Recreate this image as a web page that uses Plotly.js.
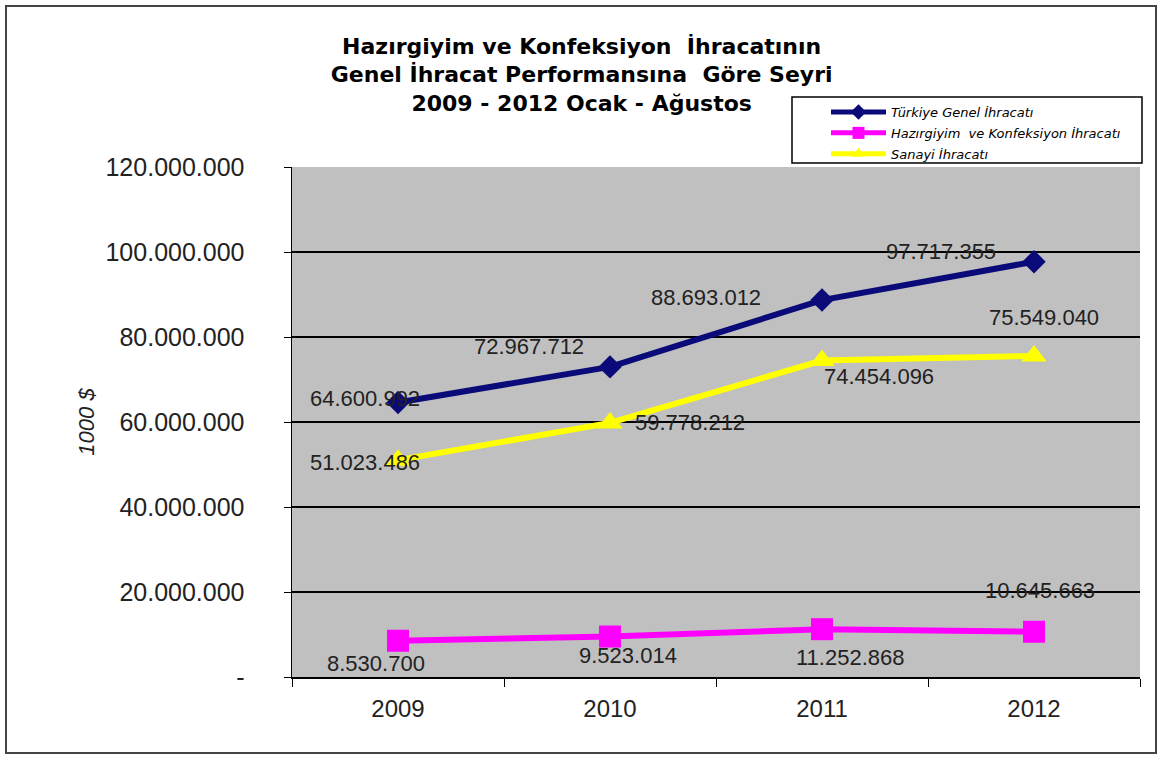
<!DOCTYPE html>
<html>
<head>
<meta charset="utf-8">
<script src="https://cdn.plot.ly/plotly-3.0.1.min.js"></script>
<style>
html,body{margin:0;padding:0;background:#fff;}
#chart{position:absolute;left:0;top:0;width:1161px;height:758px;}
#frame{position:absolute;left:5px;top:5px;width:1148px;height:745px;border:2px solid #444;pointer-events:none;}
</style>
</head>
<body>
<div id="chart"></div>
<div id="frame"></div>
<script>
const years = ["2009", "2010", "2011", "2012"];
const genelIhracat = [64600992, 72967712, 88693012, 97717355];
const hazirgiyim = [8530700, 9523014, 11252868, 10645663];
const sanayi = [51023486, 59778212, 74454096, 75549040];
const seriesNames = ["Türkiye Genel İhracatı", "Hazırgiyim  ve Konfeksiyon İhracatı", "Sanayi İhracatı"];
const yTickVals = [0, 20000000, 40000000, 60000000, 80000000, 100000000, 120000000];
const yTickText = ["-", "20.000.000", "40.000.000", "60.000.000", "80.000.000", "100.000.000", "120.000.000"];

function fmt(v){ return String(v).replace(/\B(?=(\d{3})+(?!\d))/g, "."); }

const FONT = "Liberation Sans, Arial, sans-serif";
const WIDE = "DejaVu Sans, Verdana, sans-serif";

const traces = [
  {x: years, y: genelIhracat, name: seriesNames[0], legendgroup: "a", type: "scatter", mode: "lines+markers",
   line: {color: "#0a0a78", width: 6}, marker: {symbol: "diamond", size: 18, color: "#0a0a78"}},
  {x: years, y: hazirgiyim, name: seriesNames[1], legendgroup: "b", type: "scatter", mode: "lines+markers",
   line: {color: "#ff00ff", width: 6}, marker: {symbol: "square", size: 22, color: "#ff00ff"}},
  {x: years, y: sanayi, name: seriesNames[2], legendgroup: "c", type: "scatter", mode: "lines+markers",
   line: {color: "#ffff00", width: 6}, marker: {symbol: "triangle-up", size: 22, color: "#ffff00"}}
];
traces.forEach(t => { t.name = "<i>" + t.name + "</i>"; });

// label offsets (px) per series/point
const offG = [[-33, 4], [-81, 20], [-116, 3], [-93, 10]];
const offH = [[-22, -23], [18, -19], [28, -28], [6, 41]];
const offS = [[-33, -2], [80, 0], [57, -16], [10, 38]];

const annotations = [];
function addLabels(vals, offs){
  vals.forEach((v, i) => {
    annotations.push({x: i, y: v, xref: "x", yref: "y", text: fmt(v), showarrow: false,
      xshift: offs[i][0], yshift: offs[i][1], font: {family: FONT, size: 22, color: "#222"}});
  });
}
addLabels(genelIhracat, offG);
addLabels(hazirgiyim, offH);
addLabels(sanayi, offS);

const layout = {
  width: 1161, height: 758,
  margin: {l: 292, r: 21, t: 167, b: 81},
  paper_bgcolor: "#ffffff",
  plot_bgcolor: "#c0c0c0",
  showlegend: true,
  title: {
    text: "<b>Hazırgiyim ve Konfeksiyon  İhracatının<br>Genel İhracat Performansına  Göre Seyri<br>2009 - 2012 Ocak - Ağustos</b>",
    xref: "container", yref: "container",
    x: 0.501, xanchor: "center", y: 0.929, yanchor: "top",
    font: {family: WIDE, size: 22, color: "#000"}
  },
  xaxis: {
    type: "category", range: [-0.5, 3.5],
    showline: true, linecolor: "#000", linewidth: 1.5, mirror: false,
    ticks: "outside", ticklen: 8, tickcolor: "#000", tickson: "boundaries",
    ticklabelstandoff: 10,
    showgrid: false, zeroline: false,
    tickfont: {family: FONT, size: 24, color: "#222"}
  },
  yaxis: {
    range: [0, 120000000], tickvals: yTickVals, ticktext: yTickText,
    showline: true, linecolor: "#000", linewidth: 1.5,
    ticks: "outside", ticklen: 7, tickcolor: "#000",
    ticklabelstandoff: 34,
    showgrid: true, gridcolor: "#000", gridwidth: 1.2, zeroline: false,
    tickfont: {family: FONT, size: 25, color: "#222"},
    title: {text: "<i>1000 $</i>", standoff: 5, font: {family: FONT, size: 22, color: "#222"}}
  },
  legend: {
    x: (826 - 292) / 848, y: (677 - 97) / 510, xanchor: "left", yanchor: "top",
    bgcolor: "rgba(0,0,0,0)", borderwidth: 0,
    font: {family: WIDE, size: 13, color: "#000"},
    itemwidth: 55, itemsizing: "constant", traceorder: "grouped", tracegroupgap: 1
  },
  shapes: [
    {type: "rect", xref: "paper", yref: "paper",
     x0: (792 - 292) / 848, x1: (1142 - 292) / 848, y0: (677 - 163) / 510, y1: (677 - 97) / 510,
     fillcolor: "#ffffff", line: {color: "#000", width: 1.5}, layer: "above"}
  ],
  annotations: annotations
};

Plotly.newPlot("chart", traces, layout, {displayModeBar: false, staticPlot: true});
</script>
</body>
</html>
